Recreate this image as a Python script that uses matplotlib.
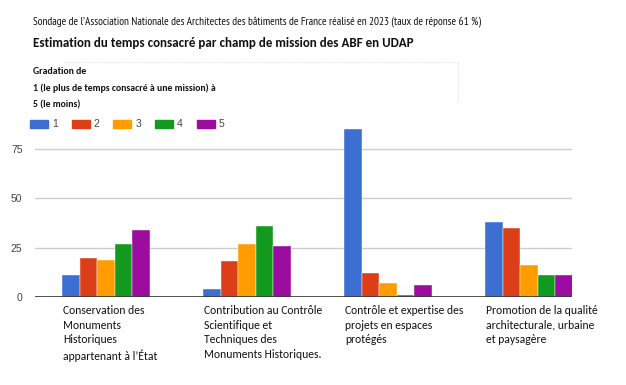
import numpy as np
import matplotlib.pyplot as plt
from matplotlib.patches import Rectangle

categories = [
    "Conservation des\nMonuments\nHistoriques\nappartenant à l’État",
    "Contribution au Contrôle\nScientifique et\nTechniques des\nMonuments Historiques.",
    "Contrôle et expertise des\nprojets en espaces\nprotégés",
    "Promotion de la qualité\narchitecturale, urbaine\net paysagère",
]
series_names = ["1", "2", "3", "4", "5"]
values = {
    "1": [11, 4, 85, 38],
    "2": [20, 18, 12, 35],
    "3": [19, 27, 7, 16],
    "4": [27, 36, 1, 11],
    "5": [34, 26, 6, 11],
}
colors = ["#3c6fd1", "#dc3f17", "#ff9d00", "#129a1e", "#9c0c9e"]
yticks = [0, 25, 50, 75]

W, H = 626, 385
fig = plt.figure(figsize=(W / 100, H / 100), dpi=100)

def fx(px):
    return px / W

def fy(py):
    return 1 - py / H

ax = fig.add_axes([fx(35), fy(297), fx(572) - fx(35), fy(123.4) - fy(297)])

bw = 0.125
x = np.arange(len(categories))
for i, name in enumerate(series_names):
    ax.bar(x - 2.5 * bw + i * bw + bw / 2, values[name], width=bw, color=colors[i],
           edgecolor="white", linewidth=0.3, zorder=3)

ax.set_xlim(-0.504, 3.305)
ax.set_ylim(0, 88)
ax.set_yticks(yticks)
ax.set_yticklabels([str(v) for v in yticks], color="#444444", fontsize=7.5,
                   family="Liberation Sans")
ax.tick_params(axis="y", length=0, pad=9)
ax.set_xticks([])
for s in ax.spines.values():
    s.set_visible(False)
for v in yticks[1:]:
    ax.axhline(v, color="#cccccc", linewidth=1, zorder=1)
ax.axhline(0, color="#333333", linewidth=1.2, zorder=4)

# category labels, left aligned under each group
for xi, lab in zip(x, categories):
    ax.text(xi - 2.5 * bw + 0.01, -4, lab, ha="left", va="top", fontsize=8.4,
            family="Carlito", color="#111111", linespacing=1.42,
            transform=ax.transData, clip_on=False)

# titles
fig.text(fx(33), fy(22), "Sondage de l’Association Nationale des Architectes des bâtiments de France réalisé en 2023 (taux de réponse 61 %)",
         fontsize=8.15, family=["PT Sans Narrow", "Roboto Condensed", "DejaVu Sans"],
         va="center", color="#111111")
fig.text(fx(33), fy(43), "Estimation du temps consacré par champ de mission des ABF en UDAP",
         fontsize=9.4, family="Carlito", weight="bold", va="center", color="#111111")

# legend title
leg_title = ["Gradation de", "1 (le plus de temps consacré à une mission) à", "5 (le moins)"]
for k, line in enumerate(leg_title):
    fig.text(fx(33), fy(71 + 17 * k), line, fontsize=7, family="Carlito", weight="bold",
             va="center", color="#111111")

# legend entries
for i, name in enumerate(series_names):
    x0 = 30 + 41.7 * i
    fig.patches.append(Rectangle((fx(x0), fy(128)), fx(18), fy(120) - fy(128),
                                 transform=fig.transFigure, color=colors[i]))
    fig.text(fx(x0 + 22), fy(124), name, fontsize=7.5, family="Liberation Sans",
             va="center", color="#444444")

# faint dotted frame around legend
fig.add_artist(plt.Line2D([fx(64), fx(458)], [fy(62), fy(62)], color="#dddddd",
                          linewidth=0.6, linestyle=(0, (2, 2))))
fig.add_artist(plt.Line2D([fx(458), fx(458)], [fy(62), fy(100)], color="#dddddd",
                          linewidth=0.6, linestyle=(0, (2, 2))))

fig.savefig("out.png", dpi=100)
